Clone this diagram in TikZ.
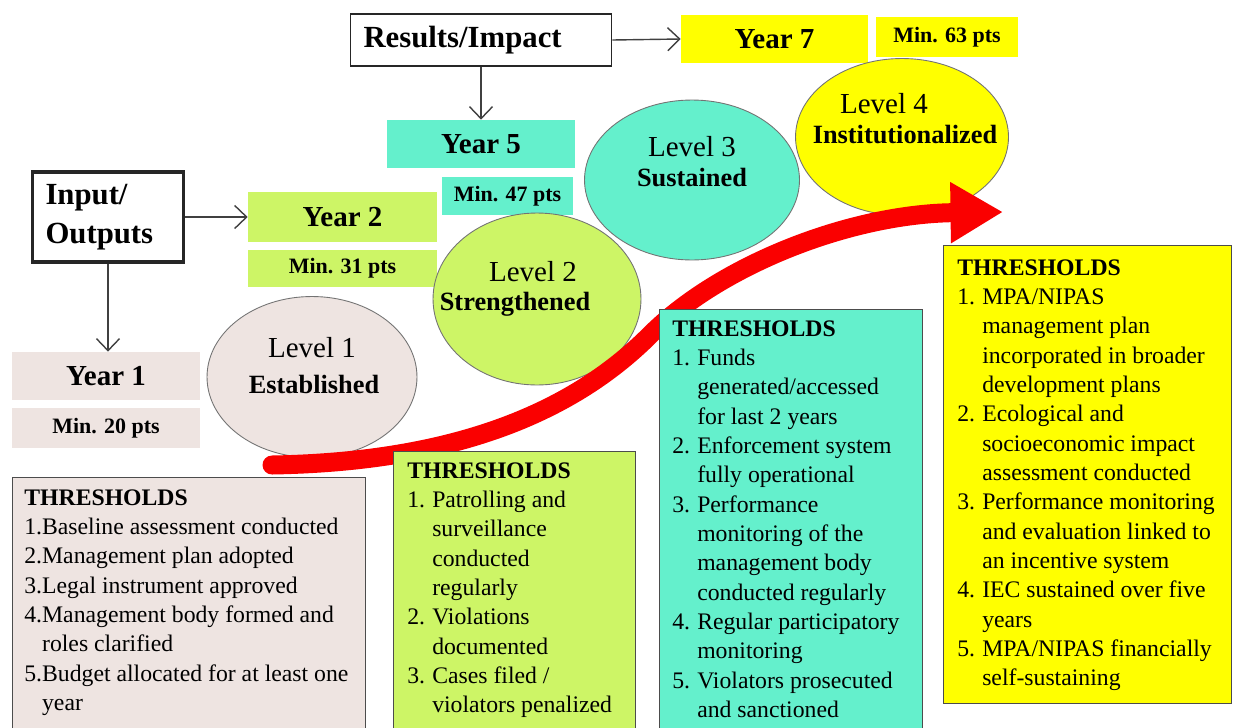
\documentclass[tikz,border=0pt]{standalone}
\usepackage{fontspec}
\setmainfont{Liberation Serif}
\usetikzlibrary{arrows.meta,shapes.geometric,positioning}

\definecolor{lvlone}{RGB}{238,228,225}
\definecolor{lvltwo}{RGB}{205,245,102}
\definecolor{lvlthree}{RGB}{100,240,204}
\definecolor{lvlfour}{RGB}{255,255,0}
\definecolor{arrowred}{RGB}{250,0,0}

\newcommand{\nr}[1]{\makebox[1.05em][l]{#1}}

\tikzset{
	hdrbox/.style={draw=black!85, line width=1.1pt, fill=white, align=left, inner xsep=0.26cm,
		font={\fontsize{17.5}{22}\selectfont\bfseries}},
	yrbox/.style={inner sep=0, minimum height=0.96cm, font={\fontsize{16.5}{19}\selectfont\bfseries}},
	minbox/.style={inner sep=0, font={\fontsize{12.5}{15}\selectfont\bfseries}},
	conn/.style={draw=black!75, line width=0.8pt, -{Straight Barb[length=2.4mm,width=4.6mm]}},
	lvl/.style={ellipse, draw=black!55, line width=0.5pt, inner sep=0},
	lvlname/.style={inner sep=0, font={\fontsize{16.5}{20}\selectfont}},
	lvlsub/.style={inner sep=0, font={\fontsize{15}{18}\selectfont\bfseries}},
	thrbox/.style={draw=black!70, line width=0.8pt, inner sep=0, anchor=north west},
	thrtxt/.style={anchor=north west, align=left, inner sep=0, font={\fontsize{13.5}{16.7}\selectfont}},
	redarrow/.style={draw=arrowred, line width=0.38cm, line cap=round,
		-{Triangle[length=1.05cm,width=1.15cm]}}
}

\begin{document}
\begin{tikzpicture}[x=0.02cm,y=-0.02cm]
		%%%%% FRAME %%%%%
		\fill[white] (0,0) rectangle (1233,727);
		\useasboundingbox (0,0) rectangle (1233,727);
		
		%%%%% HEADERS %%%%%
		\node[hdrbox, text width=4.7cm, minimum height=1.04cm] (res) at (481,40) {Results/Impact};
		\node[hdrbox, line width=1.8pt, text width=2.5cm, minimum height=1.8cm] (inp) at (108,217) {Input/\\Outputs};
		
		%%%%% YEARS %%%%%
		\node[yrbox, fill=lvlfour, minimum width=3.74cm] (yr7) at (774.5,39) {Year 7};
		\node[minbox, fill=lvlfour, minimum width=2.84cm, minimum height=0.8cm] (min7) at (947,37) {Min. 63 pts};
		
		\node[yrbox, fill=lvlthree, minimum width=3.76cm] (yr5) at (481,144) {Year 5};
		\node[minbox, fill=lvlthree, minimum width=2.62cm, minimum height=0.76cm] (min5) at (507.5,196) {Min. 47 pts};
		
		\node[yrbox, fill=lvltwo, minimum width=3.78cm, minimum height=1cm] (yr2) at (342.5,217) {Year 2};
		\node[minbox, fill=lvltwo, minimum width=3.78cm, minimum height=0.74cm] (min2) at (342.5,268.5) {Min. 31 pts};
		
		\node[yrbox, fill=lvlone, minimum width=3.76cm] (yr1) at (106,376) {Year 1};
		\node[minbox, fill=lvlone, minimum width=3.76cm, minimum height=0.8cm] (min1) at (106,428) {Min. 20 pts};
		
		\draw[conn] (res.east) -- (yr7.west);
		\draw[conn] (res.south) -- (yr5.north);
		\draw[conn] (inp.east) -- (yr2.west);
		\draw[conn] (inp.south) -- (inp.south |- yr1.north);
		
		%%%%% LEVELS %%%%%
		\node[lvl, fill=lvlone, minimum width=4.2cm, minimum height=3.22cm] (lv1) at (312,377) {};
		\node[lvlname] (lv1a) at (312,348) {Level 1};
		\node[lvlsub] (lv1b) at (314,384) {Established};
		
		\node[lvl, fill=lvltwo, minimum width=4.16cm, minimum height=3.44cm] (lv2) at (537,299) {};
		\node[lvlname] (lv2a) at (533,272) {Level 2};
		\node[lvlsub] (lv2b) at (515,304) {Strengthened};
		
		\node[lvl, fill=lvlthree, minimum width=4.3cm, minimum height=3.2cm] (lv3) at (692,180) {};
		\node[lvlname] (lv3a) at (692,147) {Level 3};
		\node[lvlsub] (lv3b) at (692,178) {Sustained};
		
		\node[lvl, fill=lvlfour, minimum width=4.26cm, minimum height=3.14cm] (lv4) at (902,137) {};
		\node[lvlname] (lv4a) at (884,104) {Level 4};
		\node[lvlsub] (lv4b) at (905,135) {Institutionalized};
		
		%%%%% RED ARROW %%%%%
		\draw[redarrow] (272,465) .. controls (450,462) and (570,415) .. (650,335)
			.. controls (720,265) and (850,214) .. (1003,212);
		
		%%%%% THRESHOLDS %%%%%
		\node[thrbox, fill=lvlone, minimum width=7.06cm, minimum height=5.1cm] (th1) at (12,477) {};
		\node[thrtxt] (th1t) at (24,489) {\textbf{THRESHOLDS}\\
			1.Baseline assessment conducted\\
			2.Management plan adopted\\
			3.Legal instrument approved\\
			4.Management body formed and\\
			\phantom{4.}roles clarified\\
			5.Budget allocated for at least one\\
			\phantom{5.}year};
		
		\node[thrbox, fill=lvltwo, minimum width=4.84cm, minimum height=5.7cm] (th2) at (393,451) {};
		\node[thrtxt] (th2t) at (407,462) {\textbf{THRESHOLDS}\\
			\nr{1.}Patrolling and\\
			\nr{}surveillance\\
			\nr{}conducted\\
			\nr{}regularly\\
			\nr{2.}Violations\\
			\nr{}documented\\
			\nr{3.}Cases filed /\\
			\nr{}violators penalized};
		
		\node[thrbox, fill=lvlthree, minimum width=5.26cm, minimum height=8.5cm] (th3) at (659,309) {};
		\node[thrtxt] (th3t) at (672,320) {\textbf{THRESHOLDS}\\
			\nr{1.}Funds\\
			\nr{}generated/accessed\\
			\nr{}for last 2 years\\
			\nr{2.}Enforcement system\\
			\nr{}fully operational\\
			\nr{3.}Performance\\
			\nr{}monitoring of the\\
			\nr{}management body\\
			\nr{}conducted regularly\\
			\nr{4.}Regular participatory\\
			\nr{}monitoring\\
			\nr{5.}Violators prosecuted\\
			\nr{}and sanctioned};
		
		\node[thrbox, fill=lvlfour, minimum width=5.76cm, minimum height=9.16cm] (th4) at (943,245) {};
		\node[thrtxt] (th4t) at (957,259) {\textbf{THRESHOLDS}\\
			\nr{1.}MPA/NIPAS\\
			\nr{}management plan\\
			\nr{}incorporated in broader\\
			\nr{}development plans\\
			\nr{2.}Ecological and\\
			\nr{}socioeconomic impact\\
			\nr{}assessment conducted\\
			\nr{3.}Performance monitoring\\
			\nr{}and evaluation linked to\\
			\nr{}an incentive system\\
			\nr{4.}IEC sustained over five\\
			\nr{}years\\
			\nr{5.}MPA/NIPAS financially\\
			\nr{}self-sustaining};
		
	\end{tikzpicture}
\end{document}
